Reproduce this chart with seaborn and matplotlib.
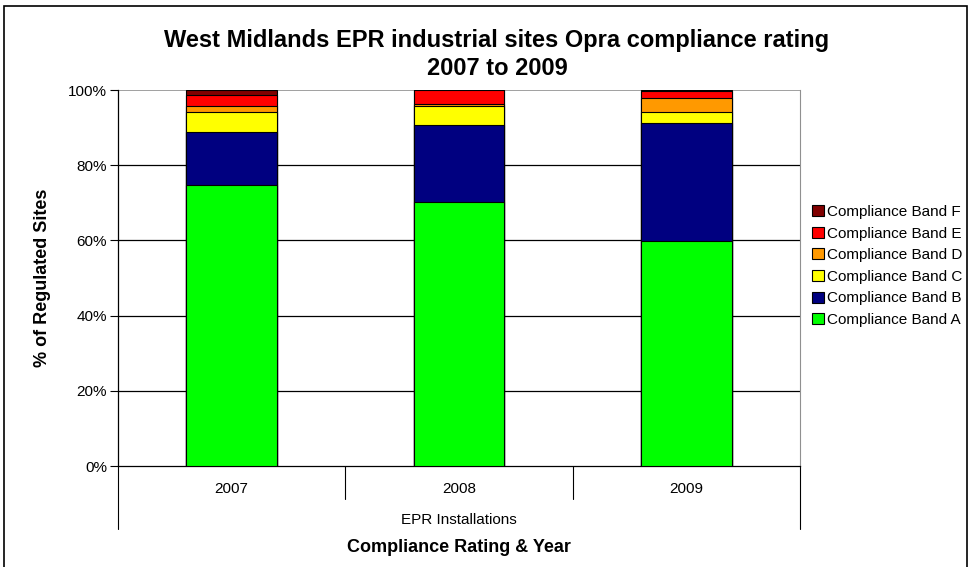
import matplotlib
matplotlib.use("Agg")
import matplotlib.pyplot as plt
import matplotlib.patches as mpatches
from matplotlib.ticker import FuncFormatter
import pandas as pd
import seaborn as sns

# data (% of regulated sites)
years = ["2007", "2008", "2009"]
bands = ["Compliance Band A", "Compliance Band B", "Compliance Band C",
         "Compliance Band D", "Compliance Band E", "Compliance Band F"]
band_a = [74.7, 70.1, 59.8]
band_b = [14.0, 20.6, 31.5]
band_c = [5.4, 5.0, 2.9]
band_d = [1.6, 0.6, 3.6]
band_e = [3.0, 3.7, 1.9]
band_f = [1.3, 0.0, 0.3]
colours = ["#00FF00", "#000080", "#FFFF00", "#FF9900", "#FF0000", "#800000"]

sns.set_style("white")
plt.rcParams["font.family"] = ["Liberation Sans", "DejaVu Sans"]
plt.rcParams["text.color"] = "black"
plt.rcParams["axes.labelcolor"] = "black"
plt.rcParams["ytick.color"] = "black"

df = pd.DataFrame({"Year": years, bands[0]: band_a, bands[1]: band_b,
                   bands[2]: band_c, bands[3]: band_d, bands[4]: band_e,
                   bands[5]: band_f})
cum = df[bands].cumsum(axis=1)
cum["Year"] = df["Year"]

fig = plt.figure(figsize=(9.7, 5.67), dpi=100)
ax = fig.add_axes([118 / 970, 1 - 466 / 567, 682 / 970, 376 / 567])

# stacked bars: draw the cumulative totals from the top band down
for band, col in reversed(list(zip(bands, colours))):
    sns.barplot(data=cum, x="Year", y=band, color=col, width=0.4, saturation=1,
                edgecolor="black", linewidth=0.8, ax=ax, zorder=3)

ax.set_ylim(0, 100)
ax.set_xlim(-0.5, 2.5)
ax.set_yticks([0, 20, 40, 60, 80, 100])
ax.yaxis.set_major_formatter(FuncFormatter(lambda v, p: f"{v:.0f}%"))
ax.tick_params(axis="y", labelsize=11, length=6, pad=2, direction="out",
               left=True, color="black", labelcolor="black")
ax.set_xticks([])
ax.set_xlabel("")
ax.set_ylabel("% of Regulated Sites", fontsize=13, fontweight="bold", labelpad=12)

for y in [20, 40, 60, 80]:
    ax.axhline(y, color="black", linewidth=0.9, zorder=1)
ax.axhline(100, color="#909090", linewidth=1.2, zorder=1)
for side in ["left", "bottom"]:
    ax.spines[side].set_color("black")
    ax.spines[side].set_linewidth(0.9)
ax.spines["right"].set_color("#909090")
ax.spines["top"].set_visible(False)

# two-level category axis
for i, yr in enumerate(years):
    ax.text(i, -6.1, yr, ha="center", va="center", fontsize=11)
for xs in [0.5, 1.5]:
    ax.plot([xs, xs], [0, -8.8], color="black", linewidth=0.8, clip_on=False)
for xs in [-0.5, 2.5]:
    ax.plot([xs, xs], [0, -16.8], color="black", linewidth=0.8, clip_on=False)
ax.text(1, -14.4, "EPR Installations", ha="center", va="center", fontsize=11)
fig.text(459 / 970, 1 - 548 / 567, "Compliance Rating & Year", ha="center",
         va="center", fontsize=13, fontweight="bold")

fig.text(497 / 970, 1 - 40 / 567, "West Midlands EPR industrial sites Opra compliance rating",
         ha="center", va="center", fontsize=17, fontweight="bold")
fig.text(497 / 970, 1 - 69 / 567, "2007 to 2009", ha="center", va="center",
         fontsize=17, fontweight="bold")

handles = [mpatches.Patch(facecolor=c, edgecolor="black", linewidth=0.8, label=b)
           for b, c in zip(bands, colours)][::-1]
fig.legend(handles=handles, loc="center left", bbox_to_anchor=(806 / 970, 1 - 266 / 567),
           frameon=False, fontsize=11, handlelength=0.75, handleheight=0.75,
           handletextpad=0.25, labelspacing=0.5, borderaxespad=0)

fig.patches.append(mpatches.Rectangle((4 / 970, -0.01), 963 / 970, 1 - 6 / 567 + 0.01,
                                      transform=fig.transFigure, fill=False,
                                      edgecolor="black", linewidth=1.2))

plt.savefig("out.png", dpi=100)
